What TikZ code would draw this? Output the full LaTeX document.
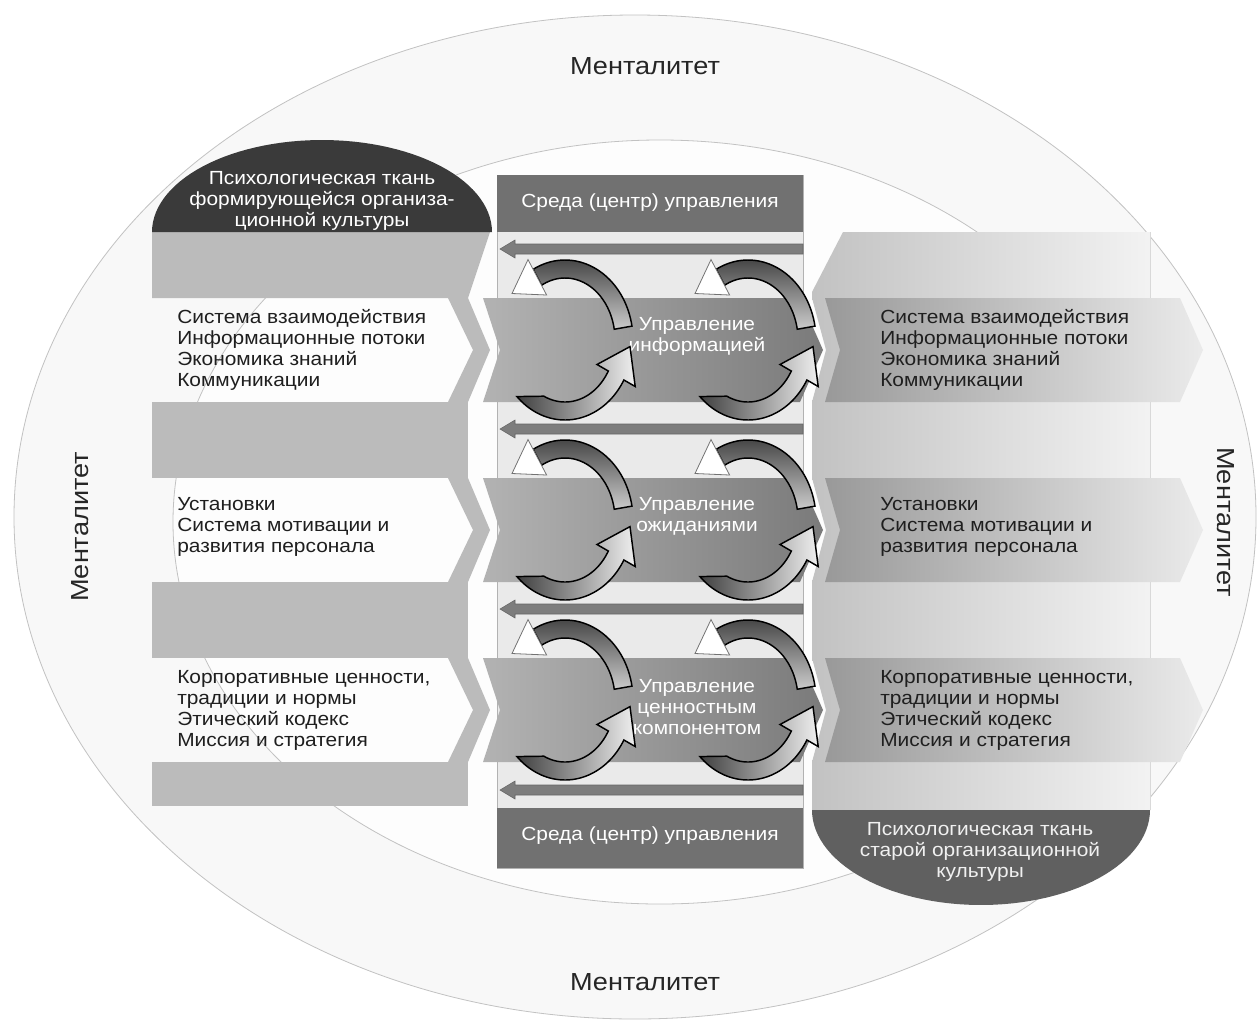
\documentclass[tikz,border=0pt]{standalone}
\usepackage{fontspec}
\setmainfont{Liberation Sans}[FakeStretch=1.1]
\usetikzlibrary{calc}
\definecolor{ringfill}{HTML}{F8F8F8}
\definecolor{innerfill}{HTML}{FDFDFD}
\definecolor{ringline}{HTML}{C2C2C2}
\definecolor{lgray}{HTML}{BBBBBB}
\definecolor{domeA}{HTML}{3A3A3A}
\definecolor{domeB}{HTML}{606060}
\definecolor{colbg}{HTML}{EAEAEA}
\definecolor{boxdark}{HTML}{717171}
\definecolor{barcol}{HTML}{7D7D7D}
\tikzset{
  txt/.style={font=\fontsize{14.25pt}{15.75pt}\selectfont, align=left, anchor=west, text=black!88, inner sep=0pt},
  wlbl/.style={font=\fontsize{14.25pt}{15.75pt}\selectfont, align=center, text=white, inner sep=0pt},
  ment/.style={font=\fontsize{18.5pt}{20pt}\selectfont, text=black!85, inner sep=0pt},
  cycbody/.style={draw=black, line width=1.1pt},
  cyc/.pic={
    % upper arc
    \path[cycbody, top color=black!72, bottom color=black!20]
      plot[domain=-10:-118, samples=40] ({68*cos(\x)},{80*sin(\x)})
      -- plot[domain=-118:-10, samples=40] ({50*cos(\x)},{62*sin(\x)}) -- cycle;
    \path[draw=black!55, line width=0.6pt, fill=white]
      (-37,-80.4) -- (-53,-46.5) -- (-18.4,-45) -- cycle;
    % lower arc
    \path[cycbody, left color=black!75, right color=black!6]
      plot[domain=135:30, samples=40] ({68*cos(\x)},{80*sin(\x)})
      -- (70.2,46.5) -- (65,6.6) -- (32,24.5)
      -- plot[domain=30:115, samples=40] ({50*cos(\x)},{62*sin(\x)}) -- cycle;
  }
}
\begin{document}
\begin{tikzpicture}[x=0.75pt,y=-0.75pt]
\path[use as bounding box] (0,0) rectangle (1259,1021);
\fill[white] (0,0) rectangle (1259,1021);
% ellipses
\path[fill=ringfill, draw=ringline, line width=0.6pt] (635,517) ellipse [x radius=621, y radius=502];
\path[fill=innerfill, draw=ringline, line width=0.6pt] (660,522) ellipse [x radius=487, y radius=382];

% left panel
\fill[lgray] (152,232) -- (490,232) -- (468,298) -- (152,298) -- cycle;
\foreach \t in {298,478,658}{
  \fill[lgray] (448,\t) -- (468,\t) -- (490,\t+52) -- (468,\t+104) -- (448,\t+104) -- (473,\t+52) -- cycle;
}
\fill[lgray] (152,402) rectangle (468,478);
\fill[lgray] (152,582) rectangle (468,658);
\fill[lgray] (152,762) rectangle (468,806);
\fill[domeA] (152,232) -- plot[domain=180:360, samples=60] ({322+170*cos(\x)},{232+92*sin(\x)}) -- cycle;

% right panel
\shade[left color=black!24, right color=black!5]
  (843,232) -- (1150,232) -- (1150,810) -- (812,810) -- (812,762) -- (826,710) -- (812,658)
  -- (812,582) -- (826,530) -- (812,478) -- (812,402) -- (826,350) -- (812,298) -- (812,292) -- cycle;
\draw[black!15, line width=0.6pt] (1150,232) -- (1150,810);
\foreach \t in {298,478,658}{
  \shade[left color=black!40, right color=black!8]
    (825,\t) -- (1180,\t) -- (1203,\t+52) -- (1180,\t+104) -- (825,\t+104) -- (840,\t+52) -- cycle;
}
\fill[domeB] (812,810) -- plot[domain=180:0, samples=60] ({981+169*cos(\x)},{810+95*sin(\x)}) -- cycle;

% centre column
\path[fill=colbg, draw=black!30, line width=0.5pt] (497,175) rectangle (803,868);
\fill[boxdark] (497,175) rectangle (803,232);
\fill[boxdark] (497,808) rectangle (803,868);
\node[wlbl] (envtop) at (650,203) {Среда (центр) управления};
\node[wlbl] (envbot) at (650,836) {Среда (центр) управления};
\foreach \y in {249,429,609,790}{
  \path[fill=barcol, draw=black!60, line width=0.4pt]
    (500,\y) -- (515,\y-9) -- (515,\y-5) -- (803,\y-5) -- (803,\y+5) -- (515,\y+5) -- (515,\y+9) -- cycle;
}
\foreach \t in {298,478,658}{
  \shade[left color=black!30, right color=black!52]
    (483,\t) -- (800,\t) -- (823,\t+52) -- (800,\t+104) -- (483,\t+104) -- (500,\t+52) -- cycle;
}
\node[wlbl] (m1) at (697,336) {Управление\\информацией};
\node[wlbl] (m2) at (697,516) {Управление\\ожиданиями};
\node[wlbl] (m3) at (697,707) {Управление\\ценностным\\компонентом};
\foreach \c in {340,520,700}{
  \pic at (565,\c) {cyc};
  \pic at (748,\c) {cyc};
}

% texts
\node[wlbl, align=center] (psyA) at (322,201) {Психологическая ткань\\формирующейся организа-\\ционной культуры};
\node[wlbl, align=center, text=black!6] (psyB) at (980,852) {Психологическая ткань\\старой организационной\\культуры};

\node[txt] (L1) at (177,350) {Система взаимодействия\\Информационные потоки\\Экономика знаний\\Коммуникации};
\node[txt] (L2) at (177,527) {Установки\\Система мотивации и\\развития персонала};
\node[txt] (L3) at (177,710) {Корпоративные ценности,\\традиции и нормы\\Этический кодекс\\Миссия и стратегия};
\node[txt] (R1) at (880,350) {Система взаимодействия\\Информационные потоки\\Экономика знаний\\Коммуникации};
\node[txt] (R2) at (880,527) {Установки\\Система мотивации и\\развития персонала};
\node[txt] (R3) at (880,710) {Корпоративные ценности,\\традиции и нормы\\Этический кодекс\\Миссия и стратегия};

\node[ment] (mtop) at (645,66) {Менталитет};
\node[ment] (mbot) at (645,982) {Менталитет};
\node[ment, rotate=90] (mleft) at (80,527) {Менталитет};
\node[ment, rotate=-90] (mright) at (1226,522) {Менталитет};
\end{tikzpicture}
\end{document}
